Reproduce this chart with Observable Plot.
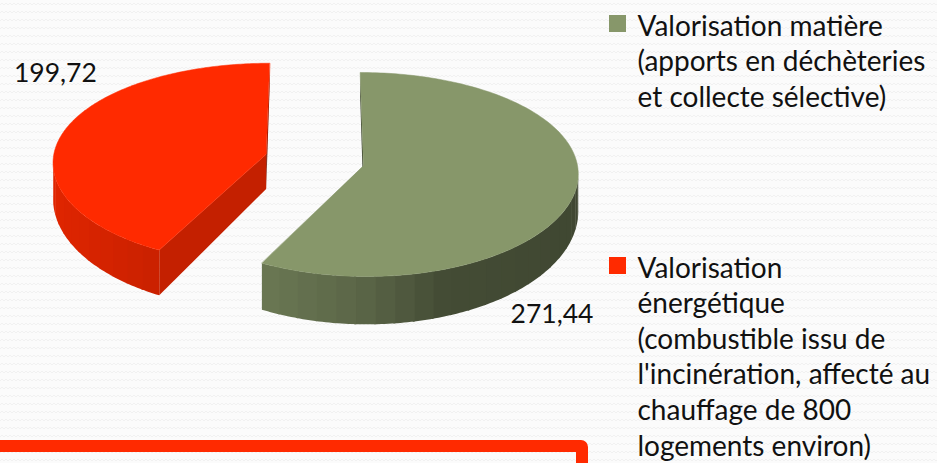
<!DOCTYPE html>
<html>
<head>
<meta charset="utf-8">
<script src="https://cdn.jsdelivr.net/npm/d3@7"></script>
<script src="https://cdn.jsdelivr.net/npm/@observablehq/plot@0.6"></script>
<style>
  html, body { margin: 0; padding: 0; }
  body {
    width: 937px; height: 463px; overflow: hidden; position: relative;
    background-color: #fbfbfb;
    background-image: url("data:image/svg+xml,%3Csvg xmlns='http://www.w3.org/2000/svg' width='8' height='8'%3E%3Cpath d='M0 5 L2 3 L4 5 L6 3 L8 5' fill='none' stroke='%23f1f1f1' stroke-width='1'/%3E%3C/svg%3E");
    font-family: Lato, "Open Sans", sans-serif;
  }
  #chart { position: absolute; left: 0; top: 0; }
  #frame {
    position: absolute; left: -30px; top: 440px; width: 618px; height: 80px;
    box-sizing: border-box; border: 12.5px solid #ff2a00; border-radius: 7px;
  }
</style>
</head>
<body>
<div id="chart"></div>
<div id="frame"></div>
<script>
// ---------- data ----------
const categories = ["Valorisation matière", "Valorisation énergétique"];
const values = [271.44, 199.72];
const valueLabels = ["271,44", "199,72"];
const sliceColors = ["#87976a", "#ff2a00"];
const explode = [0, 0.47];
const legendLines = [
  ["Valorisation matière", "(apports en déchèteries", "et collecte sélective)"],
  ["Valorisation", "énergétique", "(combustible issu de", "l'incinération, affecté au", "chauffage de 800", "logements environ)"]
];

// ---------- layout / 3D projection ----------
const W = 937, H = 463;
const CX = 363, CY = 165, RX = 214, RY = 102, K = 0.088, X0 = 315, KX = 0.07, D0 = 36, KD = 0.33;
function proj(u, v, bottom) {
  const x = X0 + (CX + RX * u - X0) * (1 + KX * v);
  let y = CY + RY * (v + K * v * v);
  if (bottom) y += D0 * (1 + KD * v);
  return [x, y];
}
function area(pts) {
  let s = 0;
  for (let i = 0; i < pts.length; i++) {
    const [x1, y1] = pts[i], [x2, y2] = pts[(i + 1) % pts.length];
    s += x1 * y2 - x2 * y1;
  }
  return s / 2;
}
function shade(base, amt) {
  const c = d3.hsl(base);
  c.l = c.l * (1 - amt);
  return c.formatHex();
}
const wallAmt = d3.scaleLinear().domain([-1, -0.46, 0, 0.34, 1]).range([0.12, 0.21, 0.34, 0.5, 0.53]).clamp(true);

const total = d3.sum(values);
let acc = 0;
const slices = values.map((v, i) => {
  const a0 = acc / total * 2 * Math.PI; acc += v;
  const a1 = acc / total * 2 * Math.PI;
  const mid = (a0 + a1) / 2;
  return {i, a0, a1, mid, ou: explode[i] * Math.sin(mid), ov: -explode[i] * Math.cos(mid)};
});

const sides = [], tops = [];
const band = Math.PI / 36;          // 5° shading bands
const eps = Math.PI / 360;          // small overlap between bands
for (const s of slices) {
  const base = sliceColors[s.i];
  const T = (t, b) => proj(s.ou + Math.sin(t), s.ov - Math.cos(t), b);
  const AT = proj(s.ou, s.ov, false), AB = proj(s.ou, s.ov, true);
  // radial faces
  const f0 = [AT, T(s.a0, false), T(s.a0, true), AB];
  const f1 = [T(s.a1, false), AT, AB, T(s.a1, true)];
  const nv0 = -Math.sin(s.a0), nv1 = Math.sin(s.a1);
  if (area(f0) < 0) sides.push({pts: f0, color: shade(base, nv0 > 0.1 ? 0.23 : 0.52)});
  if (area(f1) < 0) sides.push({pts: f1, color: shade(base, nv1 > 0.1 ? 0.23 : 0.52)});
  // outer wall, in bands
  const n = Math.ceil((s.a1 - s.a0) / band);
  for (let k = 0; k < n; k++) {
    const t1 = s.a0 + (s.a1 - s.a0) * k / n;
    const t2 = Math.min(s.a1, s.a0 + (s.a1 - s.a0) * (k + 1) / n + eps);
    const q = [];
    const m = 6;
    for (let j = 0; j <= m; j++) q.push(T(t1 + (t2 - t1) * j / m, false));
    for (let j = m; j >= 0; j--) q.push(T(t1 + (t2 - t1) * j / m, true));
    if (area(q) < 0) sides.push({pts: q, color: shade(base, wallAmt(Math.sin((t1 + t2) / 2)))});
  }
  // top
  const top = [AT];
  const nt = 180;
  for (let k = 0; k <= nt; k++) top.push(T(s.a0 + (s.a1 - s.a0) * k / nt, false));
  tops.push({pts: top, color: base});
}
const toRows = arr => arr.flatMap((p, id) => p.pts.map(([x, y]) => ({id, x, y, color: p.color})));
const sideRows = toRows(sides), topRows = toRows(tops);

// value labels (outside, best-fit style)
const labelPlace = [{angle: 149 * Math.PI / 180, r: 1.53}, {angle: 309 * Math.PI / 180, r: 1.38}];
const LBFS = 26.5;
const valueRows = slices.map(s => {
  const p = labelPlace[s.i];
  const [x, y] = proj(s.ou + p.r * Math.sin(p.angle), s.ov - p.r * Math.cos(p.angle), false);
  return {x, y, text: valueLabels[s.i]};
});

// legend
const LFS = 28, LH = 35.6, legX = 609, sw = 17, textX = 637;
const legendBase = [35, 277];
const legendSw = legendLines.map((lines, i) => ({x1: legX, x2: legX + sw, y1: legendBase[i] - 20, y2: legendBase[i] - 3, color: sliceColors[i], name: categories[i]}));
const legendText = legendLines.flatMap((lines, i) => lines.map((t, j) => ({x: textX, y: legendBase[i] + j * LH - 0.32 * LFS, text: t})));

const chart = Plot.plot({
  width: W, height: H,
  margin: 0,
  x: {domain: [0, W], range: [0, W], axis: null},
  y: {domain: [0, H], range: [0, H], axis: null},
  color: {type: "identity"},
  style: {background: "transparent", fontFamily: "Lato, 'Open Sans', sans-serif"},
  marks: [
    Plot.line(sideRows, {x: "x", y: "y", z: "id", fill: "color", stroke: null, curve: "linear-closed"}),
    Plot.line(topRows, {x: "x", y: "y", z: "id", fill: "color", stroke: "color", strokeWidth: 0.5, curve: "linear-closed"}),
    Plot.text(valueRows, {x: "x", y: "y", text: "text", fontSize: LBFS, fill: "#111", dy: -0.32 * LBFS + 8}),
    Plot.rect(legendSw, {x1: "x1", x2: "x2", y1: "y1", y2: "y2", fill: "color"}),
    Plot.text(legendText, {x: "x", y: "y", text: "text", textAnchor: "start", fontSize: LFS, fill: "#111"})
  ]
});
document.getElementById("chart").appendChild(chart);
</script>
</body>
</html>
